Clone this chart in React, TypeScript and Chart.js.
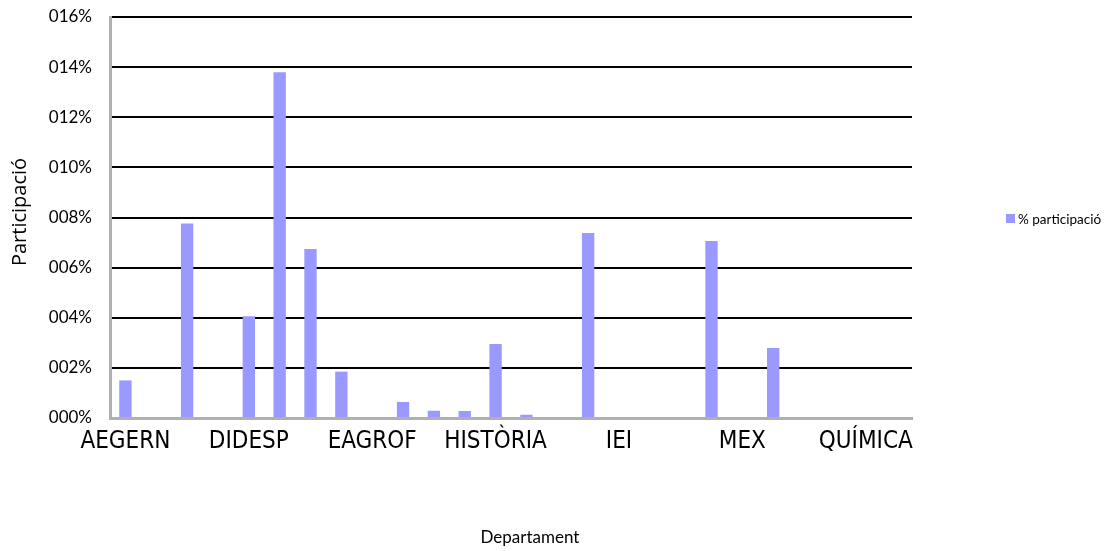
import React, { useEffect, useRef } from "react";
import { Chart, registerables } from "chart.js";

Chart.register(...registerables);

const categories: string[] = [
  "AEGERN", "ANGLÈS", "CIRURGIA", "CMB",
  "DIDESP", "DPRIV", "DPUB", "EA",
  "EAGROF", "FC", "FCFH", "GS",
  "HISTÒRIA", "HISTART", "HORT", "ICE",
  "IEI", "INFERMERIA", "MAT", "MEDICINA",
  "MEX", "PA", "PEDAGOGIA", "PVCF",
  "QUÍMICA", "TA",
];

const participacio: number[] = [
  1.5, 0, 7.76, 0,
  4.06, 13.8, 6.74, 1.85,
  0, 0.64, 0.29, 0.28,
  2.95, 0.13, 0, 7.38,
  0, 0, 0, 7.06,
  0, 2.79, 0, 0,
  0, 0,
];

const yTickLabels: string[] = ["000%", "002%", "004%", "006%", "008%", "010%", "012%", "014%", "016%"];

const seriesLabel = "% participació";
const xTitle = "Departament";
const yTitle = "Participació";

const BAR_COLOR = "#9999FF";
const TEXT_FONT = "Lato, 'Open Sans', sans-serif";
const TITLE_FONT = "'Open Sans', Lato, sans-serif";
const NARROW_FONT = "'Liberation Sans Narrow', 'Arial Narrow', 'DejaVu Sans Condensed', sans-serif";

const extrasPlugin = {
  id: "extras",
  afterDraw(chart: any) {
    const ctx = chart.ctx;
    ctx.save();
    ctx.fillStyle = "#000";
    ctx.textAlign = "center";
    ctx.textBaseline = "middle";
    // x axis title
    ctx.font = `17px ${TEXT_FONT}`;
    ctx.fillText(xTitle, 530, 538);
    // y axis title
    ctx.save();
    ctx.translate(20, 212);
    ctx.rotate(-Math.PI / 2);
    ctx.font = `20px ${TITLE_FONT}`;
    ctx.fillText(yTitle, 0, 0);
    ctx.restore();
    // legend
    ctx.fillStyle = BAR_COLOR;
    ctx.fillRect(1006, 214, 9, 9);
    ctx.fillStyle = "#000";
    ctx.font = `13.5px ${TEXT_FONT}`;
    ctx.textAlign = "left";
    ctx.fillText(seriesLabel, 1018, 219.5);
    ctx.restore();
  },
};

export default function App() {
  const canvasRef = useRef<HTMLCanvasElement | null>(null);

  useEffect(() => {
    if (!canvasRef.current) return;
    const chart = new Chart(canvasRef.current, {
      type: "bar",
      data: {
        labels: categories,
        datasets: [
          {
            label: seriesLabel,
            data: participacio,
            backgroundColor: BAR_COLOR,
            borderWidth: 0,
            barPercentage: 0.4,
            categoryPercentage: 1,
          },
        ],
      },
      options: {
        responsive: false,
        animation: false,
        layout: { autoPadding: false, padding: { left: 0, top: 17, right: 203, bottom: 0 } },
        plugins: {
          legend: { display: false },
          title: { display: false },
          tooltip: { enabled: false },
        },
        scales: {
          x: {
            type: "category",
            offset: true,
            grid: { display: false, drawTicks: false },
            border: { display: true, color: "#B0B0B0", width: 3 },
            ticks: {
              autoSkip: false,
              maxRotation: 0,
              minRotation: 0,
              padding: 9,
              color: "#000",
              font: { family: NARROW_FONT, size: 24 },
              callback: (_v: any, i: number) => (i % 4 === 0 ? categories[i] : ""),
            },
            afterFit: (scale: any) => {
              scale.height = 133;
            },
          },
          y: {
            min: 0,
            max: 16,
            grid: {
              drawTicks: false,
              lineWidth: 2,
              color: (c: any) => (c.tick && c.tick.value === 0 ? "rgba(0,0,0,0)" : "#000"),
            },
            border: { display: true, color: "#B0B0B0", width: 3 },
            ticks: {
              stepSize: 2,
              padding: 18,
              color: "#000",
              font: { family: TEXT_FONT, size: 17 },
              callback: (_v: any, i: number) => yTickLabels[i],
            },
            afterFit: (scale: any) => {
              scale.width = 110;
              scale.paddingTop = 0;
              scale.paddingBottom = 0;
            },
          },
        },
      },
      plugins: [extrasPlugin],
    });
    return () => chart.destroy();
  }, []);

  return (
    <div style={{ position: "fixed", left: 0, top: 0, width: 1115, height: 551, background: "#fff" }}>
      <canvas ref={canvasRef} width={1115} height={551} style={{ display: "block" }} />
    </div>
  );
}
